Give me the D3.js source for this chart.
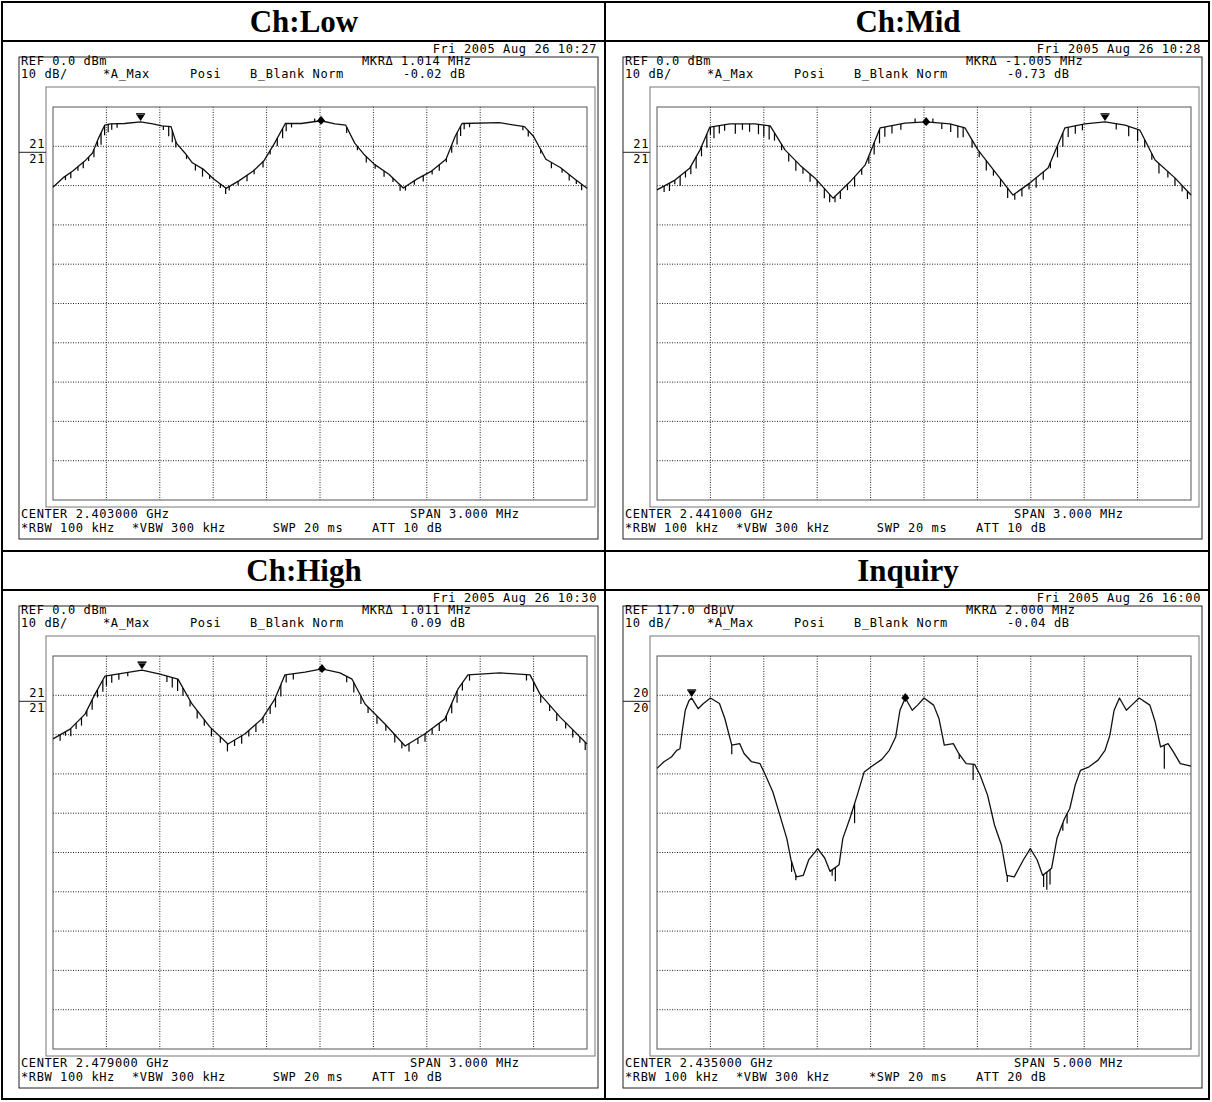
<!DOCTYPE html>
<html>
<head>
<meta charset="utf-8">
<script src="https://cdn.jsdelivr.net/npm/d3@7"></script>
<style>
  body { margin: 0; background: #fff; }
  svg text { font-family: "DejaVu Sans Mono", monospace; font-size: 12px; letter-spacing: 0.6px; fill: #000; white-space: pre; }
  svg text.title { font-family: "Liberation Serif", "Times New Roman", serif; font-weight: bold; font-size: 31px; letter-spacing: 0; }
</style>
</head>
<body>
<svg id="chart"></svg>
<script>
// ---- panel texts ----
const titles = ['Ch:Low', 'Ch:Mid', 'Ch:High', 'Inquiry'];
const stamps = ['Fri 2005 Aug 26 10:27', 'Fri 2005 Aug 26 10:28', 'Fri 2005 Aug 26 10:30', 'Fri 2005 Aug 26 16:00'];
const refTexts = ['REF 0.0 dBm', 'REF 0.0 dBm', 'REF 0.0 dBm', 'REF 117.0 dBµV'];
const mkrFreqs = ['MKRΔ 1.014 MHz', 'MKRΔ -1.005 MHz', 'MKRΔ 1.011 MHz', 'MKRΔ 2.000 MHz'];
const mkrLevels = ['-0.02 dB', '-0.73 dB', ' 0.09 dB', '-0.04 dB'];
const centers = ['CENTER 2.403000 GHz', 'CENTER 2.441000 GHz', 'CENTER 2.479000 GHz', 'CENTER 2.435000 GHz'];
const spanTexts = ['SPAN 3.000 MHz', 'SPAN 3.000 MHz', 'SPAN 3.000 MHz', 'SPAN 5.000 MHz'];
const swpTexts = [' SWP 20 ms', ' SWP 20 ms', ' SWP 20 ms', '*SWP 20 ms'];
const attTexts = ['ATT 10 dB', 'ATT 10 dB', 'ATT 10 dB', 'ATT 20 dB'];
const lineLabels = ['21', '21', '21', '20'];

// ---- axis settings ----
const refLevels = [0, 0, 0, 117];   // top of screen
const spansMHz = [3, 3, 3, 5];
const dbPerDiv = 10;

// ---- traces: [offset from center MHz, level] ----
const lowTrace = [
  [-1.500,-20.4],[-1.440,-17.9],[-1.389,-16.3],[-1.320,-13.7],[-1.278,-11.7],[-1.248,-8.3],
  [-1.209,-4.6],[-1.179,-4.3],[-1.098,-4.2],[-1.008,-3.8],[-0.939,-4.3],[-0.888,-4.8],
  [-0.837,-5.0],[-0.807,-9.2],[-0.759,-11.7],[-0.717,-14.2],[-0.657,-15.8],[-0.597,-18.3],
  [-0.528,-20.7],[-0.456,-18.8],[-0.375,-16.3],[-0.315,-13.7],[-0.255,-9.2],[-0.195,-4.2],
  [-0.105,-4.2],[0.006,-3.5],[0.084,-4.3],[0.144,-4.6],[0.195,-9.2],[0.246,-12.0],
  [0.306,-14.6],[0.387,-17.1],[0.468,-20.6],[0.546,-18.3],[0.627,-16.3],[0.708,-13.3],
  [0.759,-7.5],[0.798,-4.2],[1.008,-4.0],[1.149,-5.0],[1.200,-7.5],[1.269,-13.3],
  [1.350,-15.4],[1.431,-18.3],[1.500,-20.7]
];
const midTrace = [
  [-1.500,-21.1],[-1.399,-18.6],[-1.315,-15.5],[-1.258,-10.9],[-1.203,-5.1],[-1.090,-4.3],
  [-0.949,-4.3],[-0.864,-4.8],[-0.781,-10.9],[-0.697,-14.8],[-0.612,-18.1],[-0.511,-23.2],
  [-0.417,-19.1],[-0.331,-14.8],[-0.246,-5.3],[-0.107,-4.1],[0.012,-3.8],[0.146,-4.3],
  [0.230,-5.3],[0.303,-10.9],[0.399,-16.5],[0.500,-22.4],[0.596,-19.3],[0.697,-15.5],
  [0.792,-5.3],[0.904,-4.3],[1.017,-3.8],[1.129,-4.6],[1.213,-5.9],[1.298,-13.5],
  [1.411,-18.1],[1.500,-22.4]
];
const highTrace = [
  [-1.500,-21.1],[-1.404,-18.6],[-1.320,-14.8],[-1.264,-9.7],[-1.208,-5.1],[-1.096,-4.3],
  [-1.000,-3.6],[-0.899,-4.6],[-0.798,-5.9],[-0.719,-12.2],[-0.618,-18.1],[-0.517,-22.4],
  [-0.421,-19.8],[-0.326,-16.0],[-0.253,-10.9],[-0.197,-4.8],[-0.084,-4.1],[0.011,-3.3],
  [0.112,-4.3],[0.180,-5.9],[0.253,-12.2],[0.365,-17.3],[0.478,-22.9],[0.590,-19.8],
  [0.702,-16.0],[0.775,-8.4],[0.831,-4.8],[1.011,-4.3],[1.180,-4.8],[1.236,-9.7],
  [1.348,-15.5],[1.500,-22.4]
];
const inquiryTrace = [
  [-2.500,88.4],[-2.435,90.1],[-2.365,91.3],[-2.315,93.0],[-2.285,93.4],[-2.265,97.7],
  [-2.235,103.2],[-2.200,105.7],[-2.175,106.3],[-2.115,103.6],[-2.065,104.9],[-2.000,106.3],
  [-1.915,104.9],[-1.865,101.1],[-1.800,94.3],[-1.725,94.7],[-1.685,92.2],[-1.615,90.1],
  [-1.535,89.6],[-1.485,86.7],[-1.415,82.4],[-1.350,76.5],[-1.285,70.6],[-1.245,65.1],
  [-1.195,60.8],[-1.130,61.2],[-1.080,65.1],[-0.995,68.0],[-0.930,65.6],[-0.880,62.2],
  [-0.795,63.9],[-0.760,70.6],[-0.695,75.6],[-0.625,81.6],[-0.560,87.5],[-0.495,88.8],
  [-0.395,90.7],[-0.325,93.0],[-0.265,96.4],[-0.225,103.2],[-0.175,106.3],[-0.110,103.2],
  [-0.060,104.5],[0.000,106.3],[0.090,104.5],[0.140,101.1],[0.190,94.3],[0.275,94.7],
  [0.325,92.2],[0.395,89.6],[0.475,89.4],[0.525,86.7],[0.595,81.6],[0.660,74.0],
  [0.725,68.9],[0.775,61.2],[0.845,60.8],[0.930,65.1],[0.995,68.0],[1.060,65.1],
  [1.110,61.2],[1.160,62.2],[1.195,63.0],[1.245,70.6],[1.315,75.6],[1.365,78.2],
  [1.415,84.1],[1.465,87.9],[1.545,88.8],[1.630,90.5],[1.695,93.0],[1.740,96.8],
  [1.780,103.2],[1.830,106.3],[1.895,103.2],[1.945,104.5],[2.015,106.3],[2.115,104.5],
  [2.165,100.2],[2.215,93.9],[2.285,94.7],[2.335,92.6],[2.400,89.6],[2.500,89.0]
];

// ---- noise hairs: [offset MHz, drop below trace in dB] (negative = up) ----
const lowSpikes = [
  [-1.43,1],[-1.40,1.5],[-1.36,1],[-1.33,1.5],[-1.30,1],[-1.27,2],[-1.25,1.5],[-1.23,3],
  [-1.21,2.5],[-1.19,2],[-1.17,1.5],[-1.14,1],[-0.88,1],[-0.85,2.5],[-0.83,3],[-0.81,1.5],
  [-0.75,1],[-0.70,1.5],[-0.66,2],[-0.62,1],[-0.56,1],[-0.53,1.5],[-0.51,1],
  [-0.46,1],[-0.41,1.5],[-0.37,1],[-0.32,1.5],[-0.28,1],[-0.24,2],[-0.21,2.5],[-0.19,2],
  [-0.16,1],[-0.03,-0.8],[0.01,-0.8],[0.15,1.5],[0.21,1],[0.26,1.5],[0.31,1],[0.36,1.5],
  [0.41,1],[0.45,1.5],[0.48,1],[0.53,1],[0.58,1.5],[0.63,1],[0.67,1.5],[0.71,1],[0.74,2],
  [0.77,3],[0.79,2.5],[0.81,1.5],[0.84,1],[1.14,1],[1.17,1.5],[1.24,1],[1.30,1.5],
  [1.36,1],[1.40,1.5],[1.44,1],[1.47,1.5]
];
const midSpikes = [
  [-1.46,1.5],[-1.43,2],[-1.40,1],[-1.37,2.5],[-1.34,1.5],[-1.31,2],[-1.28,3],[-1.25,2.5],
  [-1.22,3.5],[-1.20,2],[-1.18,3],[-1.15,2],[-1.12,1.5],[-1.06,2.5],[-1.02,1.5],[-0.98,2],
  [-0.93,2.5],[-0.90,3],[-0.87,3.5],[-0.84,2],[-0.80,1.5],[-0.76,2],[-0.72,2.5],[-0.68,1.5],
  [-0.64,2],[-0.60,1.5],[-0.56,2.5],[-0.53,2],[-0.50,1.5],[-0.47,2],[-0.43,1.5],[-0.39,2.5],
  [-0.35,1.5],[-0.31,2],[-0.28,3],[-0.25,3.5],[-0.22,2.5],[-0.18,2],[-0.13,1.5],[-0.05,-1],
  [0.05,-1],[0.10,1.5],[0.15,2],[0.19,3],[0.22,2.5],[0.27,2],[0.31,1.5],[0.35,2.5],
  [0.39,1.5],[0.43,2],[0.47,2.5],[0.51,1.5],[0.55,2],[0.59,1.5],[0.63,2.5],[0.67,2],
  [0.71,1.5],[0.75,3],[0.78,3.5],[0.81,2.5],[0.85,2],[0.89,1.5],[1.08,1.5],[1.15,2.5],
  [1.20,3],[1.24,2],[1.28,1.5],[1.32,2.5],[1.37,1.5],[1.41,2],[1.45,1.5],[1.48,2]
];
const highSpikes = [
  [-1.46,1.5],[-1.43,1],[-1.40,2],[-1.37,1.5],[-1.34,2],[-1.31,1.5],[-1.28,2.5],[-1.25,2],
  [-1.22,3],[-1.20,2.5],[-1.17,2],[-1.13,1.5],[-1.08,1],[-0.86,1.5],[-0.83,2.5],[-0.80,3],
  [-0.77,2],[-0.73,1.5],[-0.69,2],[-0.65,1.5],[-0.61,2],[-0.56,1.5],[-0.52,2],[-0.48,1.5],
  [-0.44,2],[-0.40,1.5],[-0.36,2],[-0.32,1.5],[-0.28,2],[-0.25,2.5],[-0.22,3],[-0.19,2],
  [-0.15,1.5],[0.15,1.5],[0.19,2.5],[0.23,2],[0.27,1.5],[0.32,2],[0.37,1.5],[0.42,2],
  [0.46,1.5],[0.50,2],[0.55,1.5],[0.59,2],[0.63,1.5],[0.67,2],[0.71,1.5],[0.74,2.5],
  [0.77,3],[0.80,2],[0.84,1.5],[1.16,1.5],[1.20,2.5],[1.24,2],[1.29,1.5],[1.33,2],
  [1.38,1.5],[1.42,2],[1.46,1.5],[1.49,2]
];
const inquirySpikes = [
  [-1.80,2.3],[-1.24,2.6],[-1.20,1.3],[-0.86,1.5],[-0.83,3.5],[-0.65,5],[0.33,1.2],
  [0.46,4],[0.78,1.7],[1.12,3.2],[1.15,4.5],[1.18,3.8],[1.30,2],[1.34,2.5],[2.25,6]
];

// ---- markers: [reference (▼), delta (◆)] in MHz ----
const lowMarkers = [-1.008, 0.006];
const midMarkers = [1.017, 0.012];
const highMarkers = [-1.000, 0.011];
const inquiryMarkers = [-2.175, -0.175];

const W = 1212, H = 1102;
const colX = [3, 607];
const rowY = [41, 590];
const titleRows = [[2, 41], [551, 590]];

const svg = d3.select('#chart').attr('width', W).attr('height', H);

// table frame
const table = svg.append('g').attr('stroke', '#000').attr('stroke-width', 2).attr('fill', 'none');
table.append('rect').attr('x', 2).attr('y', 2).attr('width', 1207).attr('height', 1097);
table.selectAll('line.h').data([41, 551, 590]).join('line')
  .attr('x1', 2).attr('x2', 1209).attr('y1', d => d).attr('y2', d => d);
table.append('line').attr('x1', 605).attr('x2', 605).attr('y1', 2).attr('y2', 1099);

function drawPanel(i, trace, spikes, markers) {
  const ox = colX[i % 2], oy = rowY[Math.floor(i / 2)];
  const tr = titleRows[Math.floor(i / 2)];
  const g = svg.append('g');

  g.append('text').attr('class', 'title')
    .attr('x', ox + 301).attr('y', (tr[0] + tr[1]) / 2 + 10)
    .attr('text-anchor', 'middle').text(titles[i]);

  const half = spansMHz[i] / 2;
  const x = d3.scaleLinear().domain([-half, half]).range([ox + 50, ox + 584]);
  const y = d3.scaleLinear().domain([refLevels[i] - 10 * dbPerDiv, refLevels[i]]).range([oy + 459, oy + 66]);
  const level = d3.scaleLinear().domain(trace.map(d => d[0])).range(trace.map(d => d[1]));

  // screen frame + inner box
  g.append('rect').attr('x', ox + 16).attr('y', oy + 16).attr('width', 579).attr('height', 482)
    .attr('fill', 'none').attr('stroke', '#222');
  g.append('rect').attr('x', ox + 43).attr('y', oy + 46).attr('width', 549).attr('height', 420)
    .attr('fill', 'none').attr('stroke', '#777');

  // grid
  const xg = d3.range(1, 10).map(k => -half + k * spansMHz[i] / 10);
  const yg = d3.range(1, 10).map(k => refLevels[i] - k * dbPerDiv);
  g.selectAll('line.vx').data(xg).join('line')
    .attr('x1', d => x(d)).attr('x2', d => x(d)).attr('y1', y.range()[1]).attr('y2', y.range()[0])
    .attr('stroke', '#222').attr('stroke-dasharray', '1,1.5');
  g.selectAll('line.hy').data(yg).join('line')
    .attr('y1', d => y(d)).attr('y2', d => y(d)).attr('x1', x.range()[0]).attr('x2', x.range()[1])
    .attr('stroke', '#222').attr('stroke-dasharray', '1,1.5');
  g.append('rect').attr('x', x.range()[0]).attr('y', y.range()[1])
    .attr('width', x.range()[1] - x.range()[0]).attr('height', y.range()[0] - y.range()[1])
    .attr('fill', 'none').attr('stroke', '#555');

  // display line labels
  const dl = y(refLevels[i] - dbPerDiv);
  g.append('text').attr('x', ox + 42).attr('y', dl + 2).attr('text-anchor', 'end').text(lineLabels[i]);
  g.append('text').attr('x', ox + 42).attr('y', dl + 17).attr('text-anchor', 'end').text(lineLabels[i]);
  g.append('line').attr('x1', ox + 16).attr('x2', ox + 43).attr('y1', dl + 6).attr('y2', dl + 6)
    .attr('stroke', '#222');

  // trace
  const line = d3.line().x(d => x(d[0])).y(d => y(d[1]));
  g.append('path').datum(trace).attr('d', line)
    .attr('fill', 'none').attr('stroke', '#111').attr('stroke-width', 1.3).attr('stroke-linejoin', 'round');
  g.selectAll('line.spike').data(spikes).join('line')
    .attr('x1', d => x(d[0])).attr('x2', d => x(d[0]))
    .attr('y1', d => y(level(d[0]))).attr('y2', d => y(level(d[0]) - d[1]))
    .attr('stroke', '#000').attr('stroke-width', 1.2);

  // markers
  const mx = x(markers[0]), my = y(level(markers[0]));
  g.append('path').attr('d', `M${mx - 4},${my - 7}L${mx + 4},${my - 7}L${mx},${my - 1}Z`).attr('fill', '#000');
  g.append('line').attr('x1', mx - 4.5).attr('x2', mx + 4.5).attr('y1', my - 8).attr('y2', my - 8)
    .attr('stroke', '#000').attr('stroke-width', 1.5);
  const dx = x(markers[1]), dy = y(level(markers[1]));
  g.append('path').attr('d', `M${dx},${dy - 5}L${dx + 4},${dy}L${dx},${dy + 4}L${dx - 4},${dy}Z`).attr('fill', '#000');

  // screen annotations
  const t = (tx, ty, s, anchor) => g.append('text').attr('x', ox + tx).attr('y', oy + ty)
    .attr('text-anchor', anchor || 'start').text(s);
  t(594, 12, stamps[i], 'end');
  t(18, 24, refTexts[i]);
  t(359, 24, mkrFreqs[i]);
  t(18, 37, '10 dB/');
  t(100, 37, '*A_Max');
  t(187, 37, 'Posi');
  t(247, 37, 'B_Blank Norm');
  t(400, 37, mkrLevels[i]);
  t(18, 477, centers[i]);
  t(407, 477, spanTexts[i]);
  t(18, 491, '*RBW 100 kHz');
  t(129, 491, '*VBW 300 kHz');
  t(262, 491, swpTexts[i]);
  t(369, 491, attTexts[i]);
}

drawPanel(0, lowTrace, lowSpikes, lowMarkers);
drawPanel(1, midTrace, midSpikes, midMarkers);
drawPanel(2, highTrace, highSpikes, highMarkers);
drawPanel(3, inquiryTrace, inquirySpikes, inquiryMarkers);
</script>
</body>
</html>
